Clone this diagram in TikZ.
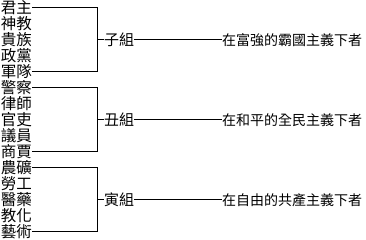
\documentclass[tikz,border=0pt]{standalone}
\usepackage{fontspec}
\setmainfont{Noto Sans CJK TC}
\begin{document}
\begin{tikzpicture}[x=1pt,y=1pt,
  lbl/.style={inner sep=0pt,outer sep=0pt,anchor=west,font=\fontsize{15.5}{16}\selectfont},
  grp/.style={inner sep=0pt,outer sep=0pt,anchor=west,font=\fontsize{15}{16}\selectfont},
  res/.style={inner sep=0pt,outer sep=0pt,anchor=west,font=\fontsize{14}{16}\selectfont},
  conn/.style={line width=1pt}]
\useasboundingbox (0,0) rectangle (366,240);
% left labels, row centres at 8+16i from top
\node[lbl] (a1) at (1,232) {君主};
\node[lbl] (a2) at (1,216) {神教};
\node[lbl] (a3) at (1,200) {貴族};
\node[lbl] (a4) at (1,184) {政黨};
\node[lbl] (a5) at (1,168) {軍隊};
\node[lbl] (b1) at (1,152) {警察};
\node[lbl] (b2) at (1,136) {律師};
\node[lbl] (b3) at (1,120) {官吏};
\node[lbl] (b4) at (1,104) {議員};
\node[lbl] (b5) at (1,88) {商賈};
\node[lbl] (c1) at (1,72) {農礦};
\node[lbl] (c2) at (1,56) {勞工};
\node[lbl] (c3) at (1,40) {醫藥};
\node[lbl] (c4) at (1,24) {教化};
\node[lbl] (c5) at (1,8) {藝術};
% bracket junctions
\coordinate (ka) at (97.5,200);
\coordinate (kb) at (97.5,120);
\coordinate (kc) at (97.5,40);
% group labels
\node[grp] (ga) at (104,200) {子組};
\node[grp] (gb) at (104,120) {丑組};
\node[grp] (gc) at (104,40) {寅組};
% results
\node[res] (ra) at (222,200) {在富強的霸國主義下者};
\node[res] (rb) at (222,120) {在和平的全民主義下者};
\node[res] (rc) at (222,40) {在自由的共產主義下者};
% connectors
\draw[conn] (a1.east) -| (ka) |- (a5.east);
\draw[conn] (b1.east) -| (kb) |- (b5.east);
\draw[conn] (c1.east) -| (kc) |- (c5.east);
\draw[conn] (ka) -- (ga.west);
\draw[conn] (kb) -- (gb.west);
\draw[conn] (kc) -- (gc.west);
\draw[conn] (ga.east) -- (ra.west);
\draw[conn] (gb.east) -- (rb.west);
\draw[conn] (gc.east) -- (rc.west);
\end{tikzpicture}
\end{document}
